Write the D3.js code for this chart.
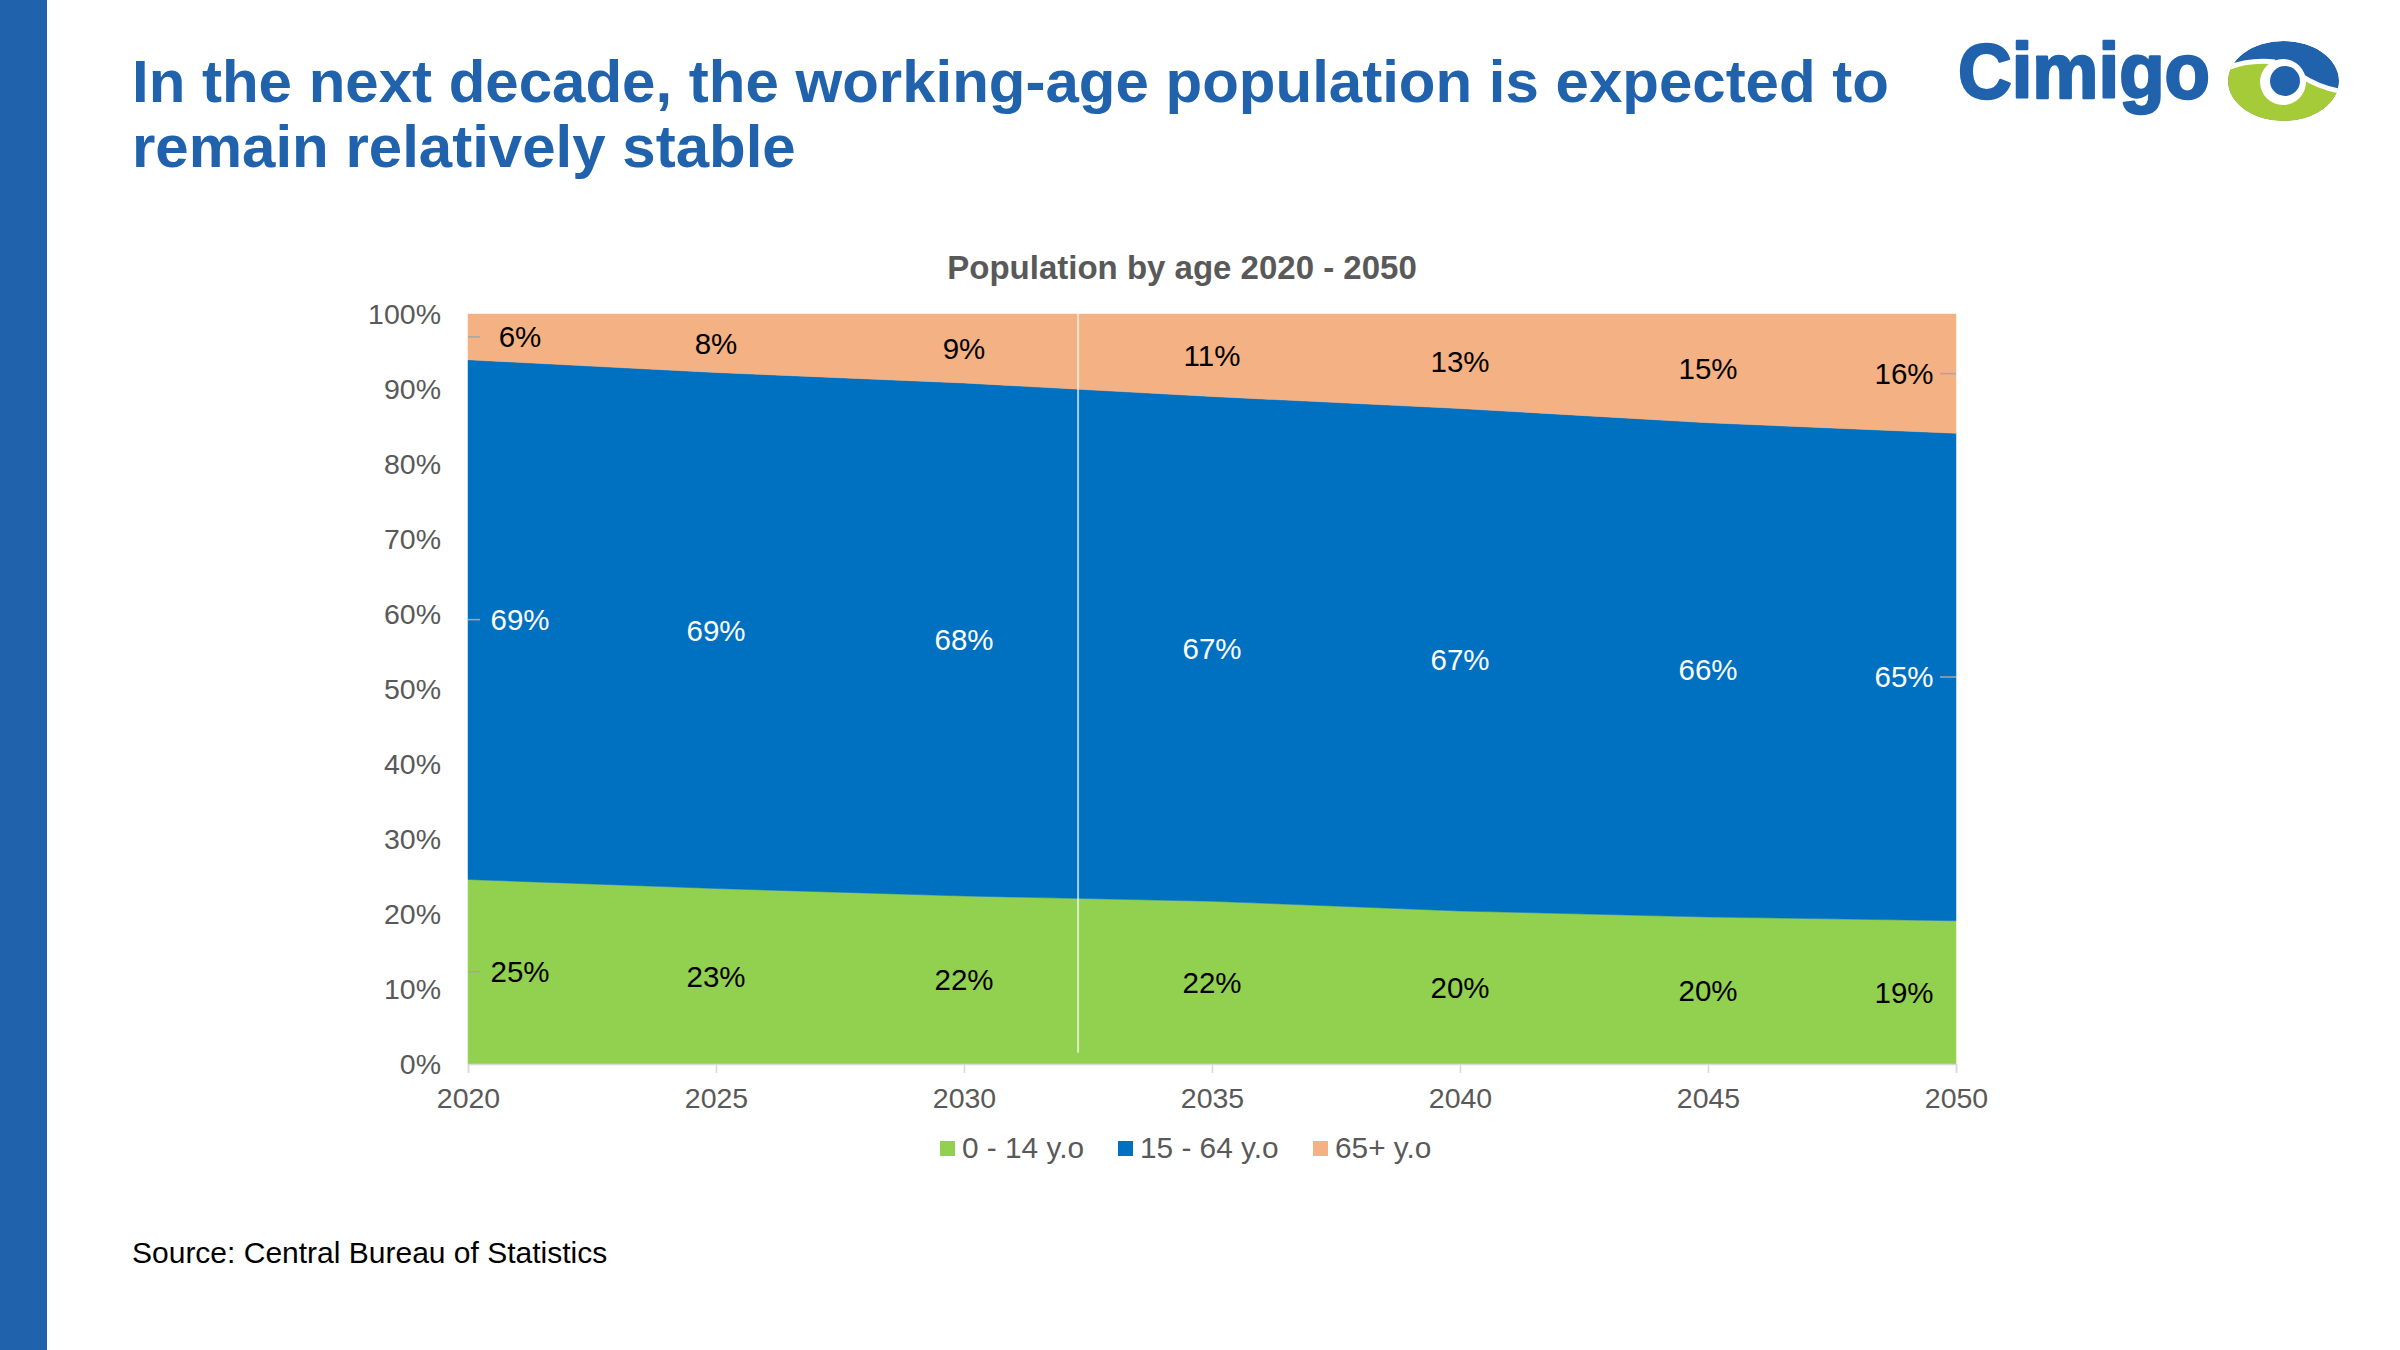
<!DOCTYPE html>
<html>
<head>
<meta charset="utf-8">
<script src="https://cdn.jsdelivr.net/npm/d3@7"></script>
<style>
  html, body { margin: 0; padding: 0; background: #ffffff; }
  svg { display: block; }
  text { font-family: "Liberation Sans", Arial, sans-serif; }
</style>
</head>
<body>
<script>
// ---- Data ----
const years = [2020, 2025, 2030, 2035, 2040, 2045, 2050];
const age0to14 = [24.6, 23.4, 22.4, 21.7, 20.4, 19.6, 19.1];
const age15to64 = [69.3, 68.8, 68.4, 67.3, 67.0, 65.9, 65.0];
const age65plus = [6.1, 7.8, 9.2, 11.0, 12.6, 14.5, 15.9];
const seriesNames = ["0 - 14 y.o", "15 - 64 y.o", "65+ y.o"];
const yTicks = [0, 10, 20, 30, 40, 50, 60, 70, 80, 90, 100];
const dividerYear = 2032.3;
const titleLines = ["In the next decade, the working-age population is expected to", "remain relatively stable"];
const chartTitle = "Population by age 2020 - 2050";
const sourceText = "Source: Central Bureau of Statistics";

const colors = ["#92D050", "#0070C0", "#F4B183"];
const labelColors = ["#000000", "#ffffff", "#000000"];
const brandBlue = "#2062AC";
const brandGreen = "#A5CB39";

const W = 2400, H = 1350;
const svg = d3.select("body").append("svg").attr("width", W).attr("height", H);

// left bar
svg.append("rect").attr("x", 0).attr("y", 0).attr("width", 47).attr("height", H).attr("fill", brandBlue);

// headline
const head = svg.append("text").attr("fill", brandBlue).attr("font-weight", "bold").attr("font-size", 60);
titleLines.forEach((t, i) => head.append("tspan").attr("x", 132).attr("y", 102 + i * 65).text(t));

// logo
const logo = svg.append("g");
logo.append("text").attr("x", 1958).attr("y", 98).attr("fill", brandBlue).attr("stroke", brandBlue).attr("stroke-width", 2.5)
  .attr("stroke-linejoin", "round").attr("font-weight", "bold")
  .attr("font-size", 78).attr("textLength", 252).attr("lengthAdjust", "spacingAndGlyphs").text("Cimigo");
const ecx = 2283.5, ecy = 81, erx = 55.5, ery = 40;
const clip = svg.append("defs").append("clipPath").attr("id", "eyeClip");
clip.append("ellipse").attr("cx", ecx).attr("cy", ecy).attr("rx", erx).attr("ry", ery);
const eye = logo.append("g").attr("clip-path", "url(#eyeClip)");
eye.append("ellipse").attr("cx", ecx).attr("cy", ecy).attr("rx", erx).attr("ry", ery).attr("fill", brandBlue);
eye.append("path").attr("d", "M2222,70 C2240,62 2258,60 2275,62 L2300,75 C2315,85 2330,90 2345,92 L2345,130 L2222,130 Z").attr("fill", brandGreen);
eye.append("path").attr("d", "M2222,70 C2240,62 2258,60 2275,62").attr("stroke", "#fff").attr("stroke-width", 5).attr("fill", "none");
eye.append("path").attr("d", "M2300,75 C2315,85 2330,90 2345,92").attr("stroke", "#fff").attr("stroke-width", 5).attr("fill", "none");
eye.append("circle").attr("cx", 2283).attr("cy", 82).attr("r", 23).attr("fill", "#fff");
eye.append("circle").attr("cx", 2285).attr("cy", 81).attr("r", 15).attr("fill", brandBlue);

// ---- Chart ----
const x = d3.scaleLinear().domain([2020, 2050]).range([468, 1956]);
const y = d3.scaleLinear().domain([0, 100]).range([1064, 314]);

const rows = years.map((yr, i) => ({ year: yr, s0: age0to14[i], s1: age15to64[i], s2: age65plus[i] }));
const keys = ["s0", "s1", "s2"];
const stacked = d3.stack().keys(keys)(rows);

const area = d3.area().x(d => x(d.data.year)).y0(d => y(d[0])).y1(d => y(d[1]));
svg.append("g").selectAll("path").data(stacked).join("path")
  .attr("d", area).attr("fill", (d, i) => colors[i]).attr("stroke", (d, i) => colors[i]).attr("stroke-width", 0.5);

// divider line
svg.append("line").attr("x1", x(dividerYear)).attr("x2", x(dividerYear))
  .attr("y1", y(100)).attr("y2", y(1.5)).attr("stroke", "#ffffff").attr("stroke-opacity", 0.65).attr("stroke-width", 2);

// chart title
svg.append("text").attr("x", 1182).attr("y", 279).attr("text-anchor", "middle")
  .attr("font-size", 33).attr("font-weight", "bold").attr("fill", "#595959").text(chartTitle);

// y axis (labels only)
const yAxis = d3.axisLeft(y).tickValues(yTicks).tickFormat(d => d + "%").tickSize(0).tickPadding(0);
const gy = svg.append("g").attr("transform", "translate(441,0)").call(yAxis);
gy.select(".domain").remove();
gy.selectAll("text").attr("font-size", 28.5).attr("fill", "#595959").attr("font-family", "Liberation Sans, Arial, sans-serif").attr("dy", "0.35em");

// x axis
const xAxis = d3.axisBottom(x).tickValues(years).tickFormat(d3.format("d")).tickSize(9).tickPadding(15);
const gx = svg.append("g").attr("transform", `translate(0,${y(0)})`).call(xAxis);
gx.select(".domain").attr("stroke", "#D9D9D9").attr("stroke-width", 1.5);
gx.selectAll(".tick line").attr("stroke", "#D9D9D9").attr("stroke-width", 1.5);
gx.selectAll("text").attr("font-size", 28.5).attr("fill", "#595959").attr("font-family", "Liberation Sans, Arial, sans-serif");

// data labels
const lastIdx = years.length - 1;
const labelX = (i) => i === 0 ? x(years[0]) + 52 : (i === lastIdx ? x(years[lastIdx]) - 52 : x(years[i]));
const labelsG = svg.append("g");
stacked.forEach((s, si) => {
  s.forEach((d, i) => {
    const cy = y((d[0] + d[1]) / 2);
    const val = d[1] - d[0];
    const lx = labelX(i);
    labelsG.append("text").attr("x", lx).attr("y", cy).attr("dy", "0.35em").attr("text-anchor", "middle")
      .attr("font-size", 29.5).attr("fill", labelColors[si]).text(Math.round(val) + "%");
    if (i === 0) {
      labelsG.append("line").attr("x1", x(years[0])).attr("x2", x(years[0]) + 12).attr("y1", cy).attr("y2", cy)
        .attr("stroke", "#A6A6A6").attr("stroke-width", 1.5);
    }
    if (i === lastIdx && si > 0) {
      labelsG.append("line").attr("x1", x(years[lastIdx]) - 16).attr("x2", x(years[lastIdx])).attr("y1", cy).attr("y2", cy)
        .attr("stroke", "#A6A6A6").attr("stroke-width", 1.5);
    }
  });
});

// legend
const legendX = [940, 1118, 1313];
const lg = svg.append("g");
seriesNames.forEach((n, i) => {
  lg.append("rect").attr("x", legendX[i]).attr("y", 1141).attr("width", 15).attr("height", 15).attr("fill", colors[i]);
  lg.append("text").attr("x", legendX[i] + 22).attr("y", 1148).attr("dy", "0.35em").attr("font-size", 29.8)
    .attr("fill", "#595959").text(n);
});

// source
svg.append("text").attr("x", 132).attr("y", 1263).attr("font-size", 30).attr("fill", "#000").text(sourceText);
</script>
</body>
</html>
